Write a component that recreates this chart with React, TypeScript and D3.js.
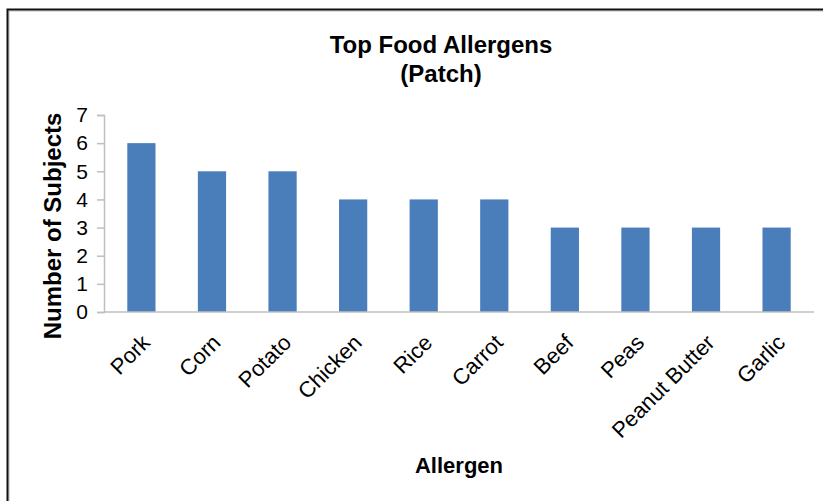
import React, { useRef, useEffect } from "react";
import * as d3 from "d3";

// chart data
const allergens = ["Pork", "Corn", "Potato", "Chicken", "Rice", "Carrot", "Beef", "Peas", "Peanut Butter", "Garlic"];
const subjects = [6, 5, 5, 4, 4, 4, 3, 3, 3, 3];
const yTicks = [0, 1, 2, 3, 4, 5, 6, 7];
const titleLines = ["Top Food Allergens", "(Patch)"];

const WIDTH = 823;
const HEIGHT = 501;
const FONT = "'Liberation Sans', Arial, sans-serif";

const App = () => {
  const svgRef = useRef<SVGSVGElement | null>(null);

  useEffect(() => {
    const svg = d3.select(svgRef.current);
    svg.selectAll("*").remove();

    const margin = { left: 104, right: 9, top: 115, bottom: 189 };

    const x = d3.scaleBand<string>()
      .domain(allergens)
      .range([margin.left, WIDTH - margin.right])
      .paddingInner(0.6)
      .paddingOuter(0.33);

    const y = d3.scaleLinear()
      .domain([0, 7])
      .range([HEIGHT - margin.bottom, margin.top]);

    // white background + outer frame (right/bottom edges fall outside the view)
    svg.append("rect")
      .attr("width", WIDTH).attr("height", HEIGHT).attr("fill", "#fff");
    svg.append("rect")
      .attr("x", 9).attr("y", 11)
      .attr("width", WIDTH + 20).attr("height", HEIGHT + 20)
      .attr("fill", "none").attr("stroke", "#bbb").attr("stroke-width", 1);
    svg.append("rect")
      .attr("x", 7.5).attr("y", 9.5)
      .attr("width", WIDTH + 20).attr("height", HEIGHT + 20)
      .attr("fill", "none").attr("stroke", "#111").attr("stroke-width", 2);

    // title
    svg.append("text")
      .attr("x", 441)
      .attr("text-anchor", "middle")
      .style("font-family", FONT)
      .style("font-size", "24px")
      .style("font-weight", "bold")
      .attr("fill", "#000")
      .selectAll("tspan")
      .data(titleLines)
      .enter()
      .append("tspan")
      .attr("x", 441)
      .attr("y", (d, i) => 53 + i * 29)
      .text(d => d);

    // bars
    svg.append("g")
      .selectAll("rect")
      .data(subjects)
      .enter()
      .append("rect")
      .attr("x", (d, i) => x(allergens[i])!)
      .attr("y", d => y(d))
      .attr("width", x.bandwidth())
      .attr("height", d => y(0) - y(d))
      .attr("fill", "#4a7ebb");

    // y axis
    const yAxis = svg.append("g")
      .attr("transform", `translate(${margin.left},0)`)
      .call(d3.axisLeft(y).tickValues(yTicks).tickFormat(d3.format("d")).tickSize(7).tickPadding(9));
    yAxis.select(".domain").attr("stroke", "#bfbfbf").attr("stroke-width", 1.5);
    yAxis.selectAll(".tick line").attr("stroke", "#bfbfbf").attr("stroke-width", 1.5);
    yAxis.selectAll(".tick text")
      .style("font-family", FONT)
      .style("font-size", "21px")
      .attr("fill", "#000");

    // x axis baseline
    svg.append("line")
      .attr("x1", margin.left).attr("x2", WIDTH - margin.right)
      .attr("y1", y(0)).attr("y2", y(0))
      .attr("stroke", "#bfbfbf").attr("stroke-width", 1.5);

    // rotated category labels
    svg.append("g")
      .selectAll("text")
      .data(allergens)
      .enter()
      .append("text")
      .attr("transform", d => `translate(${x(d)! + x.bandwidth() / 2 + 10},${y(0) + 32}) rotate(-45)`)
      .attr("text-anchor", "end")
      .style("font-family", FONT)
      .style("font-size", "22px")
      .attr("fill", "#000")
      .text(d => d);

    // axis titles
    svg.append("text")
      .attr("transform", `translate(61,226) rotate(-90)`)
      .attr("text-anchor", "middle")
      .style("font-family", FONT)
      .style("font-size", "24px")
      .style("font-weight", "bold")
      .text("Number of Subjects");

    svg.append("text")
      .attr("x", (margin.left + WIDTH - margin.right) / 2)
      .attr("y", 473)
      .attr("text-anchor", "middle")
      .style("font-family", FONT)
      .style("font-size", "22px")
      .style("font-weight", "bold")
      .text("Allergen");
  }, []);

  return (
    <svg
      ref={svgRef}
      width={WIDTH}
      height={HEIGHT}
      style={{ position: "absolute", left: 0, top: 0 }}
    ></svg>
  );
};

export default App;
